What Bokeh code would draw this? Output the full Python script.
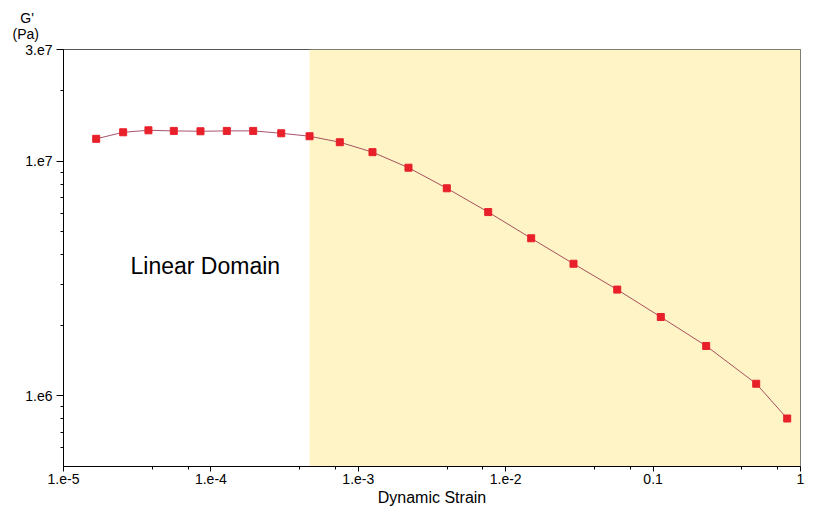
from bokeh.plotting import figure
from bokeh.models import FixedTicker, BoxAnnotation, Label, Title
from bokeh.embed import file_html
from bokeh.resources import INLINE

# Data
strain = [1.667e-5, 2.54e-5, 3.77e-5, 5.60e-5, 8.50e-5, 1.282e-4, 1.936e-4, 3.00e-4,
          4.67e-4, 7.49e-4, 1.248e-3, 2.19e-3, 3.985e-3, 7.61e-3, 1.489e-2, 2.884e-2,
          5.71e-2, 0.1128, 0.2292, 0.5006, 0.8126]
gprime = [1.248e7, 1.331e7, 1.357e7, 1.349e7, 1.344e7, 1.349e7, 1.349e7, 1.318e7,
          1.280e7, 1.207e7, 1.095e7, 9.40e6, 7.68e6, 6.08e6, 4.70e6, 3.66e6,
          2.84e6, 2.17e6, 1.633e6, 1.127e6, 8.01e5]

nonlinear_start = 4.67e-4

x_major = [1e-5, 1e-4, 1e-3, 1e-2, 0.1, 1.0]
x_major_labels = ["1.e-5", "1.e-4", "1.e-3", "1.e-2", "0.1", "1"]
x_minor = [m * d for d in [1e-5, 1e-4, 1e-3, 1e-2, 0.1] for m in (4, 7)]

y_major = [1e6, 1e7, 3e7]
y_major_labels = ["1.e6", "1.e7", "3.e7"]
y_minor = [6e5, 7e5, 8e5, 9e5] + [m * 1e6 for m in range(2, 10)] + [2e7]

FONT = "Liberation Sans"

p = figure(title=None, x_axis_type="log", y_axis_type="log",
           x_range=(1e-5, 1.0), y_range=(5e5, 3e7),
           frame_width=737, frame_height=417,
           min_border_left=63, min_border_top=49, min_border_right=13, min_border_bottom=0,
           output_backend="svg", toolbar_location=None,
           background_fill_color="white", border_fill_color="white")

p.xgrid.visible = False
p.ygrid.visible = False
p.outline_line_color = "#555555"
p.outline_line_width = 1

shade = BoxAnnotation(left=nonlinear_start, fill_color="#FFF4C6", fill_alpha=1.0,
                      line_alpha=0, level="underlay")
p.add_layout(shade)

p.line(strain, gprime, line_color="#8B1A3A", line_alpha=0.75, line_width=1)
p.scatter(strain, gprime, marker="square", size=7, fill_color="#E8202A",
          line_color="#E8202A")

# x axis
xa = p.xaxis[0]
xa.ticker = FixedTicker(ticks=x_major, minor_ticks=x_minor)
xa.major_label_overrides = {t: l for t, l in zip(x_major, x_major_labels)}
xa.axis_label = "Dynamic Strain"
xa.axis_label_text_font = FONT
xa.axis_label_text_font_style = "normal"
xa.axis_label_text_font_size = "16px"
xa.axis_label_text_color = "black"
xa.axis_label_standoff = 2
xa.major_label_text_font = FONT
xa.major_label_text_font_size = "14px"
xa.major_label_text_color = "black"
xa.major_label_standoff = 2
xa.major_tick_in = 0
xa.major_tick_out = 5
xa.minor_tick_in = 0
xa.minor_tick_out = 3
xa.axis_line_color = "black"
xa.major_tick_line_color = "black"
xa.major_tick_line_width = 1
xa.minor_tick_line_color = "black"
xa.minor_tick_line_width = 1

# y axis
ya = p.yaxis[0]
ya.ticker = FixedTicker(ticks=y_major, minor_ticks=y_minor)
ya.major_label_overrides = {t: l for t, l in zip(y_major, y_major_labels)}
ya.major_label_text_font = FONT
ya.major_label_text_font_size = "14px"
ya.major_label_text_color = "black"
ya.major_label_standoff = 4
ya.major_tick_in = 0
ya.major_tick_out = 7
ya.minor_tick_in = 0
ya.minor_tick_out = 3
ya.axis_line_color = "black"
ya.major_tick_line_color = "black"
ya.major_tick_line_width = 1
ya.minor_tick_line_color = "black"
ya.minor_tick_line_width = 1

# Text inside the plot
p.add_layout(Label(x=2.85e-5, y=3.59e6, text="Linear Domain", text_font=FONT,
                   text_font_size="23px", text_color="black", text_baseline="middle",
                   text_align="left"))

# Unit label of the y axis, above the frame at the left
p.add_layout(Title(text="\u00a0\u00a0G'\n(Pa)", align="left", offset=-51, standoff=15,
                   text_font=FONT, text_font_size="14px", text_font_style="normal",
                   text_line_height=1.0, text_color="black"), "above")

open("out.html", "w").write(file_html(p, INLINE))
